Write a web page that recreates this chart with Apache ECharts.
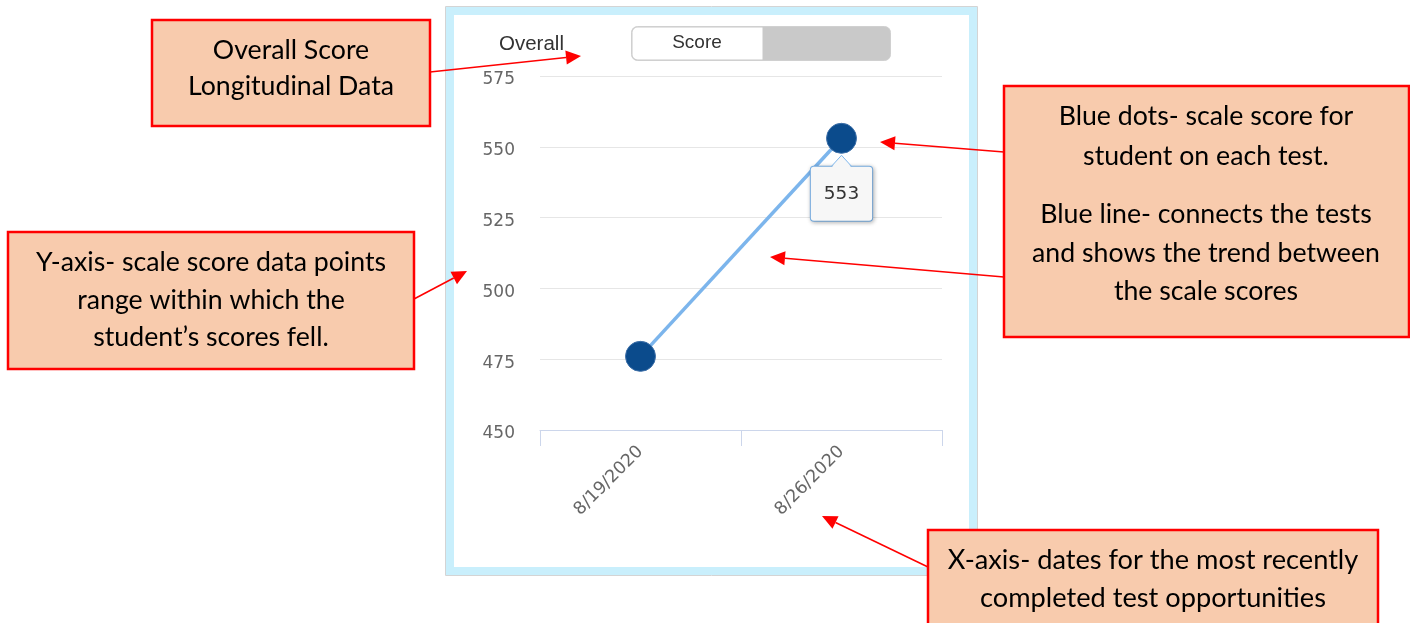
<!DOCTYPE html>
<html><head><meta charset="utf-8">
<script src="https://cdn.jsdelivr.net/npm/echarts@6/dist/echarts.min.js"></script>
<style>html,body{margin:0;padding:0;background:#fff}#c{width:1410px;height:623px}</style>
</head><body><div id="c"></div>
<script>
const dates = ['8/19/2020', '8/26/2020'];
const scores = [476, 553];
const yTicks = {min: 450, max: 575, step: 25};
const headerLabel = 'Overall';
const toggleLabel = 'Score';

const chart = echarts.init(document.getElementById('c'), null, {renderer: 'canvas'});
chart.setOption({
  backgroundColor: '#fff',
  animation: false,
  grid: {left: 540, right: 468, top: 76, bottom: 193},
  xAxis: {
    type: 'category', data: dates, boundaryGap: true,
    axisLine: {lineStyle: {color: '#ccd6eb', width: 1}},
    axisTick: {show: true, length: 16, lineStyle: {color: '#ccd6eb'}},
    axisLabel: {rotate: 45, margin: 19, color: '#666', fontFamily: 'DejaVu Sans', fontSize: 17.5},
    splitLine: {show: false}
  },
  yAxis: {
    type: 'value', min: yTicks.min, max: yTicks.max, interval: yTicks.step,
    axisLine: {show: false}, axisTick: {show: false},
    axisLabel: {
      margin: 25, color: '#666', fontFamily: 'DejaVu Sans', fontSize: 17,
      formatter: '{a|{value}}',
      rich: {a: {color: '#666', fontFamily: 'DejaVu Sans', fontSize: 17, padding: [8, 0, 0, 0]}}
    },
    splitLine: {lineStyle: {color: '#e6e6e6', width: 1}}
  },
  series: [{
    type: 'line', data: scores.map((v, i) => i === scores.length - 1 ? {
      value: v,
      label: {
        show: true, position: 'bottom', distance: 13,
        fontFamily: 'DejaVu Sans', fontSize: 18.5, color: '#333',
        backgroundColor: '#f7f7f7', borderColor: '#7cb5ec', borderWidth: 1, borderRadius: 3,
        padding: [18, 13, 17, 13],
        shadowColor: 'rgba(0,0,0,0.25)', shadowBlur: 4, shadowOffsetX: 1, shadowOffsetY: 1
      }
    } : v),
    symbol: 'circle', symbolSize: 30,
    lineStyle: {color: '#7cb5ec', width: 3.5},
    itemStyle: {color: '#0b4b8c', borderColor: '#3d6fa8', borderWidth: 1}
  }]
});

const p = chart.convertToPixel({seriesIndex: 0}, [scores.length - 1, scores[scores.length - 1]]);
const boxTop = p[1] + 15 + 13;

function arrow(x1, y1, x2, y2) {
  const a = Math.atan2(y2 - y1, x2 - x1), L = 15, W = 7;
  const bx = x2 - L * Math.cos(a), by = y2 - L * Math.sin(a);
  const nx = -Math.sin(a), ny = Math.cos(a);
  return [
    {type: 'line', z: 200, shape: {x1, y1, x2: bx, y2: by}, style: {stroke: '#ff0000', lineWidth: 1.5}},
    {type: 'polygon', z: 200, shape: {points: [[x2, y2], [bx + nx * W, by + ny * W], [bx - nx * W, by - ny * W]]}, style: {fill: '#ff0000'}}
  ];
}
function box(x, y, w, h) {
  return {type: 'rect', z: 150, shape: {x, y, width: w, height: h}, style: {fill: '#f8cbad', stroke: '#ff0000', lineWidth: 2.5}};
}
const AF = 'Lato';
function txt(text, x, y, lh, size) {
  return {type: 'text', z: 160, style: {text, x, y, fill: '#000', font: (size || 26.7) + 'px ' + AF, align: 'center', verticalAlign: 'middle', lineHeight: lh}};
}

const g = [
  // frame
  {type: 'rect', z: -10, shape: {x: 445.5, y: 6.5, width: 532, height: 569}, style: {fill: 'none', stroke: '#d4d4d4', lineWidth: 1}},
  {type: 'rect', z: -9, shape: {x: 450, y: 11, width: 523, height: 560}, style: {fill: 'none', stroke: '#c9effc', lineWidth: 8}},
  // header
  {type: 'text', z: 10, style: {text: headerLabel, x: 499, y: 44, fill: '#333', font: '20.5px "Liberation Sans"', verticalAlign: 'middle'}},
  {type: 'rect', z: 10, shape: {x: 631.5, y: 26.5, width: 259, height: 34, r: 6}, style: {fill: '#c9c9c9', stroke: '#d0d0d0', lineWidth: 1}},
  {type: 'rect', z: 11, shape: {x: 632.5, y: 27.5, width: 130, height: 32, r: [5, 0, 0, 5]}, style: {fill: '#fff'}},
  {type: 'text', z: 12, style: {text: toggleLabel, x: 697, y: 43, fill: '#333', font: '19px "Liberation Sans"', align: 'center', verticalAlign: 'middle'}},
  // tooltip notch
  {type: 'polygon', z: 100, shape: {points: [[p[0] - 10, boxTop + 1.5], [p[0], p[1] + 17], [p[0] + 10, boxTop + 1.5]]}, style: {fill: '#f7f7f7'}},
  {type: 'polyline', z: 101, shape: {points: [[p[0] - 10, boxTop], [p[0], p[1] + 17], [p[0] + 10, boxTop]]}, style: {stroke: '#7cb5ec', lineWidth: 1, fill: null}},
  // annotation boxes
  box(152, 20, 278, 106),
  txt('Overall Score\nLongitudinal Data', 291, 68, 36),
  box(8, 232, 406, 137),
  txt('Y-axis- scale score data points\nrange within which the\nstudent\u2019s scores fell.', 211, 300, 37.5),
  box(1004, 86, 405, 251),
  txt('Blue dots- scale score for\nstudent on each test.', 1206, 136, 40),
  txt('Blue line- connects the tests\nand shows the trend between\nthe scale scores', 1206, 253, 38.5),
  box(928, 530, 450, 100),
  txt('X-axis- dates for the most recently\ncompleted test opportunities', 1153, 579, 38, 27.2),
  ...arrow(430, 72, 581, 56),
  ...arrow(414, 299, 467, 271),
  ...arrow(1004, 152, 880, 142),
  ...arrow(1004, 277, 770, 257),
  ...arrow(928, 567, 822, 516)
];
chart.setOption({graphic: g});
</script></body></html>
